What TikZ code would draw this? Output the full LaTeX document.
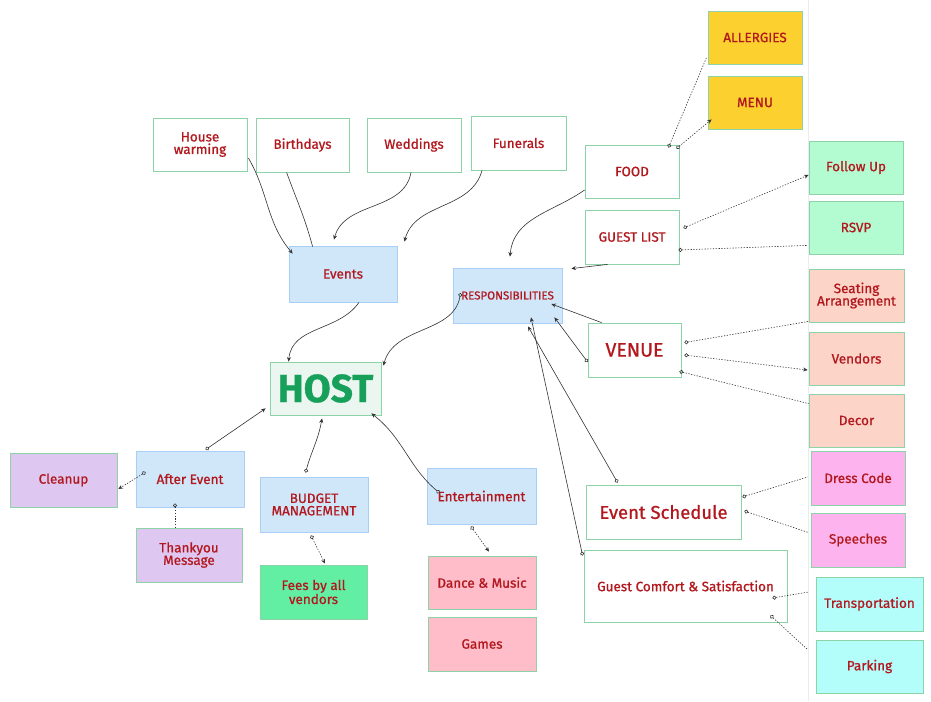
\documentclass[tikz,border=0pt]{standalone}
\usepackage{fontspec}
\setmainfont{Fira Sans}[FakeBold=0.9]
\usetikzlibrary{arrows.meta, positioning, calc}

\definecolor{labelred}{HTML}{B2181E}
\definecolor{boxgreen}{HTML}{8CD3A8}
\definecolor{topicline}{HTML}{A9CFF7}
\definecolor{topicfill}{HTML}{D0E6F9}
\definecolor{hostfill}{HTML}{ECF6F1}
\definecolor{hostgreen}{HTML}{17A05A}
\definecolor{foodyellow}{HTML}{FCD12F}
\definecolor{guestmint}{HTML}{B3FCD2}
\definecolor{venuesalmon}{HTML}{FDD4C8}
\definecolor{schedpink}{HTML}{FDB4EE}
\definecolor{comfortcyan}{HTML}{B3FDFB}
\definecolor{afterlilac}{HTML}{DEC8F2}
\definecolor{feesgreen}{HTML}{62EFA3}
\definecolor{entrose}{HTML}{FFBDCA}
\definecolor{wiregray}{HTML}{333333}
\definecolor{edgegray}{HTML}{EBEBEB}

\begin{document}
\begin{tikzpicture}[x=1pt, y=1pt,
    wh/.style 2 args={minimum width=#1, minimum height=#2},
    box/.style={draw=boxgreen, line width=0.8pt, text=labelred, align=center,
      inner sep=1pt, font=\fontsize{13.5}{12.5}\selectfont},
    plain/.style={box, fill=white},
    topic/.style={box, draw=topicline, fill=topicfill},
    wire/.style={draw=wiregray, line width=0.6pt},
    arr/.style={wire, -{Stealth[length=4.5pt, width=4pt]}},
    ringarr/.style={wire, {Circle[open, length=4pt]}-{Stealth[length=4.5pt, width=4pt]}},
    ring/.style={wire, {Circle[open, length=4pt]}-},
    dots/.style={dash pattern=on 1.3pt off 1.5pt}
  ]
  \fill[white] (0,0) rectangle (931,-701);
  \useasboundingbox (0,0) rectangle (931,-701);
  \draw[edgegray, line width=0.8pt] (808,0) -- (808,-701);

  % events
  \node[plain, wh={94}{53}] (hw) at (200,-144.5) {House\\warming};
  \node[plain, wh={93}{54}] (bday) at (302.5,-145) {Birthdays};
  \node[plain, wh={94}{54}] (wed) at (414,-145) {Weddings};
  \node[plain, wh={95}{54}] (fun) at (518.5,-143) {Funerals};
  \node[topic, wh={108}{56}] (events) at (343,-274) {Events};

  % responsibilities
  \node[topic, wh={109}{55}, font=\fontsize{11.5}{11}\selectfont] (resp) at (507.5,-295.5) {RESPONSIBILITIES};
  \node[plain, wh={94}{53}] (food) at (632,-171.5) {FOOD};
  \node[plain, wh={94}{54}] (guest) at (632,-237) {GUEST LIST};
  \node[plain, wh={93}{54}, font=\fontsize{19.5}{19}\selectfont] (venue) at (634.5,-350) {VENUE};
  \node[plain, wh={155}{54}, font=\fontsize{18.5}{18}\selectfont] (sched) at (663.5,-512) {Event Schedule};
  \node[plain, wh={203}{72}] (comfort) at (685.5,-586) {Guest Comfort \& Satisfaction};

  \node[box, fill=foodyellow, wh={94}{53}] (allerg) at (755,-37.5) {ALLERGIES};
  \node[box, fill=foodyellow, wh={94}{53}] (menu) at (755,-102.5) {MENU};
  \node[box, fill=guestmint, wh={94}{53}] (follow) at (856,-167.5) {Follow Up};
  \node[box, fill=guestmint, wh={94}{53}] (rsvp) at (856,-227.5) {RSVP};
  \node[box, fill=venuesalmon, wh={95}{53}] (seat) at (856.5,-295.5) {Seating\\Arrangement};
  \node[box, fill=venuesalmon, wh={95}{53}] (vendors) at (856.5,-358.5) {Vendors};
  \node[box, fill=venuesalmon, wh={95}{53}] (decor) at (856.5,-420.5) {Decor};
  \node[box, fill=schedpink, wh={94}{54}] (dress) at (858,-478) {Dress Code};
  \node[box, fill=schedpink, wh={94}{54}] (speech) at (858,-540) {Speeches};
  \node[box, fill=comfortcyan, wh={107}{54}] (transp) at (869.5,-604) {Transportation};
  \node[box, fill=comfortcyan, wh={107}{53}] (parking) at (869.5,-666.5) {Parking};

  % host and below
  \node[box, fill=hostfill, wh={111}{53}, text=hostgreen,
    font=\fontsize{39}{39}\selectfont\bfseries] (host) at (325.5,-388.5) {HOST};
  \node[topic, wh={108}{56}] (after) at (190,-479) {After Event};
  \node[box, fill=afterlilac, wh={107}{54}] (cleanup) at (63.5,-480) {Cleanup};
  \node[box, fill=afterlilac, wh={106}{54}] (thank) at (189,-555) {Thankyou\\Message};
  \node[topic, wh={108}{55}] (budget) at (314,-504.5) {BUDGET\\MANAGEMENT};
  \node[box, fill=feesgreen, wh={107}{54}] (fees) at (313.5,-592) {Fees by all\\vendors};
  \node[topic, wh={109}{56}] (ent) at (481.5,-496) {Entertainment};
  \node[box, fill=entrose, wh={108}{53}] (dance) at (482,-582.5) {Dance \& Music};
  \node[box, fill=entrose, wh={108}{54}] (games) at (482,-644) {Games};

  % into events
  \draw[arr] ([shift={(1,-13.5)}]hw.east) to[out=-60, in=130] ([shift={(4,-8)}]events.north west);
  \draw[wire] ([shift={(31,0)}]bday.south west) to[out=-70, in=105] ([shift={(24,-1)}]events.north west);
  \draw[arr] ([shift={(-3,0)}]wed.south) to[out=-100, in=75] ([shift={(-9,6)}]events.north);
  \draw[arr] ([shift={(-36.5,0)}]fun.south) to[out=-105, in=75] ([shift={(7,4)}]events.north east);

  % into responsibilities
  \draw[arr] ([shift={(0,-18.5)}]food.west) to[out=-145, in=85] ([shift={(2.5,11)}]resp.north);
  \draw[arr] ([shift={(23,0)}]guest.south west) -- ([shift={(9,-1)}]resp.north east);
  \draw[arr] ([shift={(14,0)}]venue.north west) -- ([shift={(-11,-8.5)}]resp.east);
  \draw[ringarr] ([shift={(0,-12)}]venue.west) -- ([shift={(-8,6)}]resp.south east);
  \draw[ringarr] ([shift={(32,2)}]sched.north west) -- ([shift={(20.5,-3)}]resp.south);
  \draw[ringarr] ([shift={(-1,-6)}]comfort.north west) -- ([shift={(23.5,6)}]resp.south);

  % into host
  \draw[ringarr] ([shift={(8,2.5)}]resp.west) to[out=-100, in=75] ([shift={(2,-4)}]host.north east);
  \draw[arr] ([shift={(16,0)}]events.south) to[out=-125, in=85] ([shift={(19,0)}]host.north west);
  \draw[ringarr] ([shift={(70,1)}]after.north west) -- ([shift={(-4,7)}]host.south west);
  \draw[ringarr] ([shift={(46,4)}]budget.north west) to[out=75, in=-100] ([shift={(-3.5,-3)}]host.south);
  \draw[ringarr] ([shift={(13,3)}]ent.west) to[out=140, in=-38] ([shift={(-10,2)}]host.south east);

  % dotted details
  \draw[ringarr, dots] ([shift={(10,7)}]after.west) -- ([shift={(1,-9)}]cleanup.east);
  \draw[ring, dots] ([shift={(-15,4)}]after.south) -- ([shift={(-14,0)}]thank.north);
  \draw[ringarr, dots] ([shift={(-3,-3)}]budget.south) -- ([shift={(11.5,1)}]fees.north);
  \draw[ringarr, dots] ([shift={(-10.5,-2)}]ent.south) -- ([shift={(7,4)}]dance.north);
  \draw[ring, dots] ([shift={(-11,-3)}]food.north east) -- ([shift={(-1,7)}]allerg.south west);
  \draw[ringarr, dots] ([shift={(-3,-4)}]food.north east) -- ([shift={(4,10)}]menu.south west);
  \draw[ringarr, dots] ([shift={(4,9)}]guest.east) -- ([shift={(0,-7.5)}]follow.west);
  \draw[ring, dots] ([shift={(-1,-13)}]guest.east) -- ([shift={(-1,9)}]rsvp.south west);
  \draw[ring, dots] ([shift={(3,-20)}]venue.north east) -- ([shift={(0,1)}]seat.south west);
  \draw[ringarr, dots] ([shift={(3,-5)}]venue.east) -- ([shift={(-1,-11.5)}]vendors.west);
  \draw[ring, dots] ([shift={(-2,6)}]venue.south east) -- ([shift={(0,-10)}]decor.north west);
  \draw[ring, dots] ([shift={(1,15)}]sched.east) -- ([shift={(-3,1)}]dress.west);
  \draw[ring, dots] ([shift={(3,1)}]sched.east) -- ([shift={(-2,-20)}]speech.north west);
  \draw[ring, dots] ([shift={(-15,-12)}]comfort.east) -- ([shift={(-7,12)}]transp.west);
  \draw[ring, dots] ([shift={(-17,7)}]comfort.south east) -- ([shift={(-8,-10)}]parking.north west);
\end{tikzpicture}
\end{document}
